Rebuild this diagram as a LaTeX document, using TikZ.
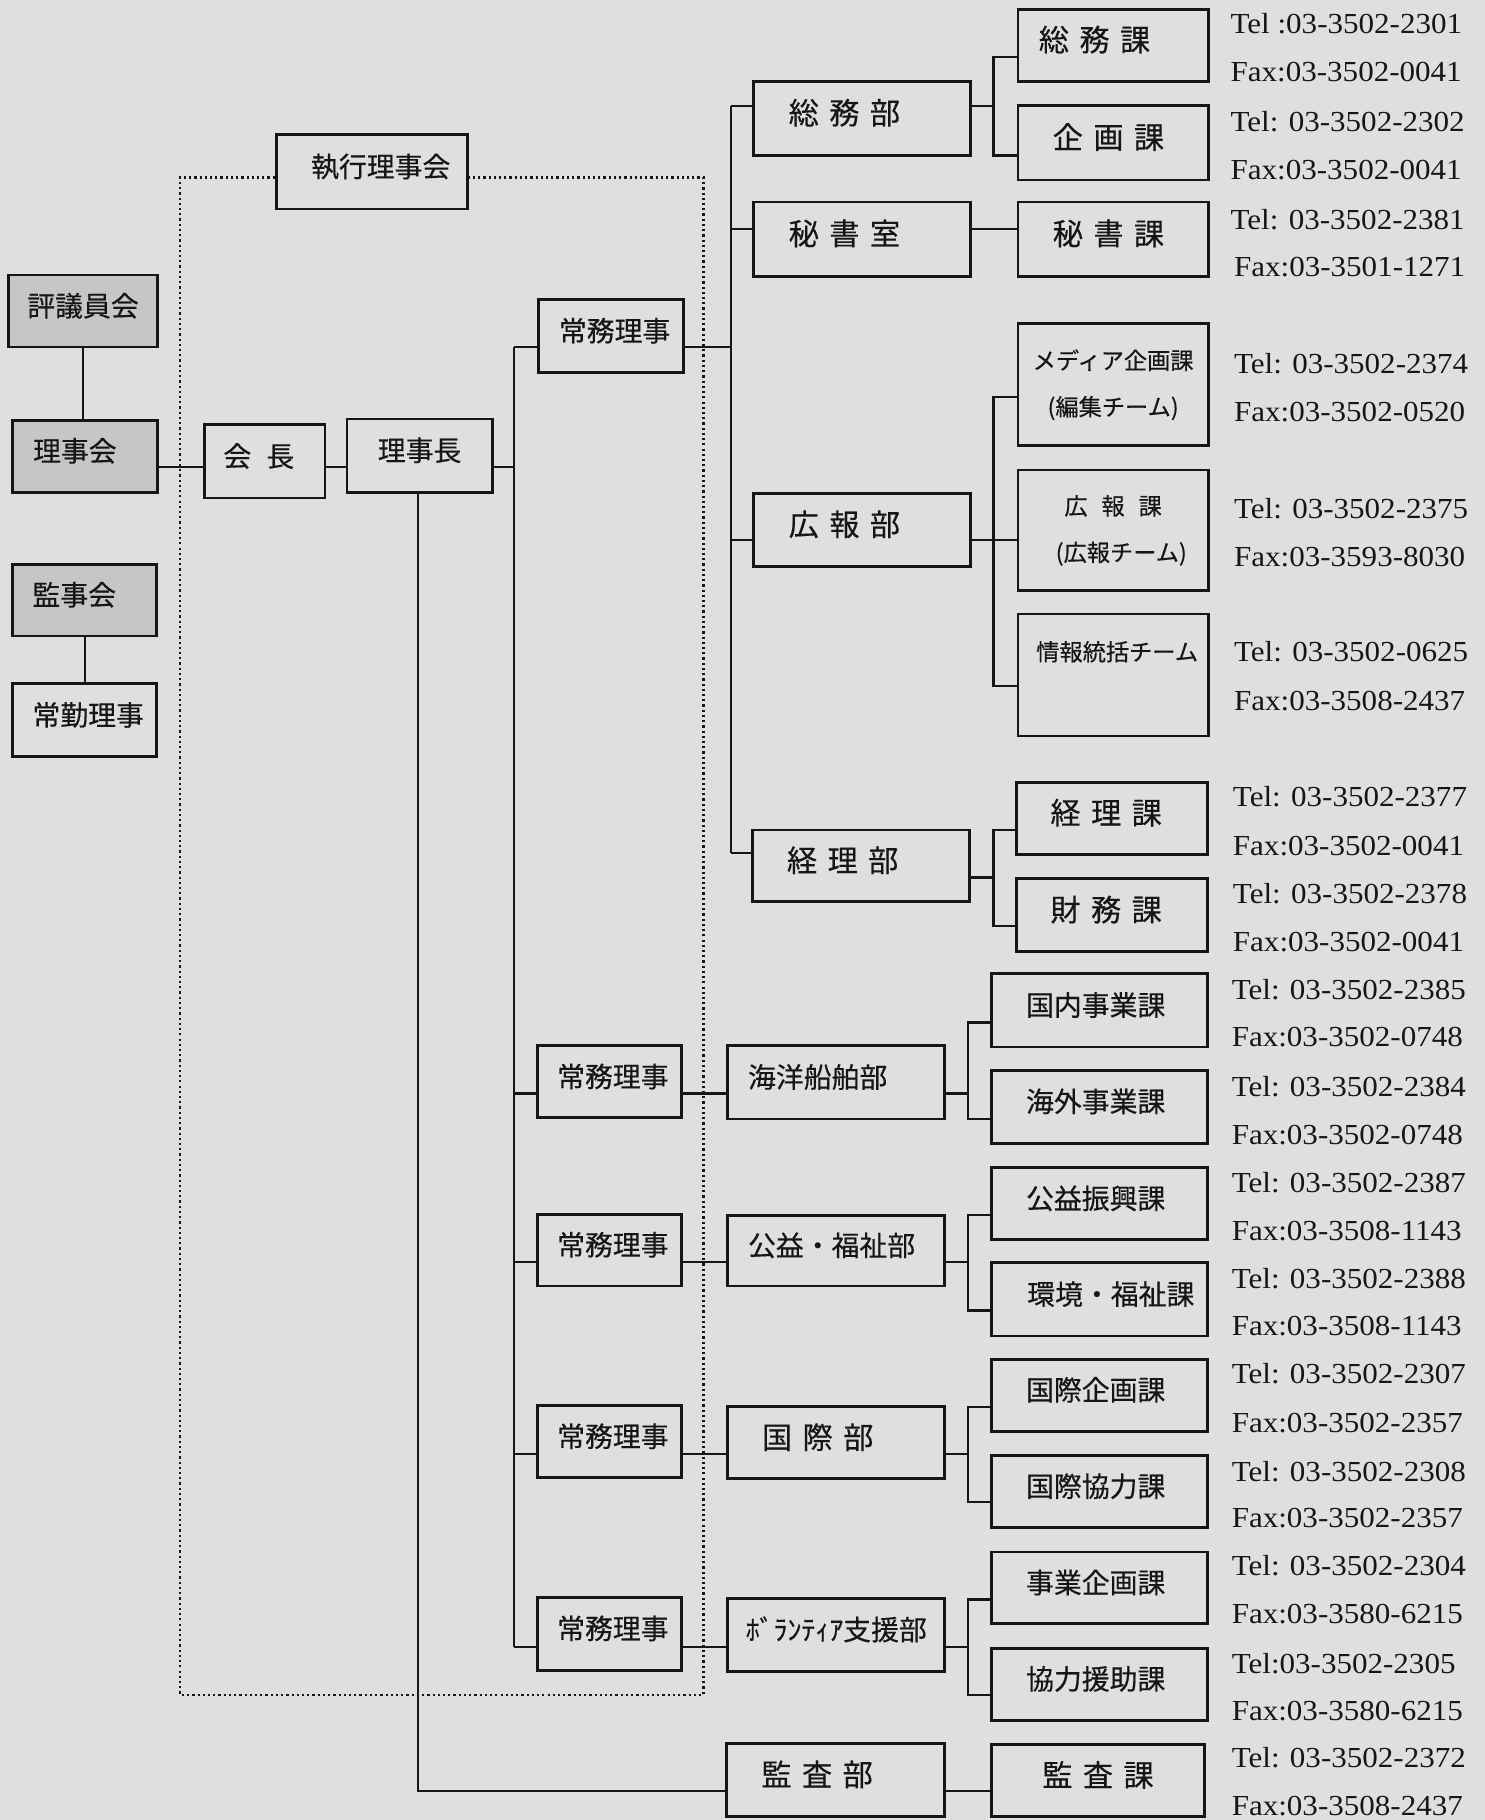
\documentclass[tikz,border=0pt]{standalone}
\usepackage{fontspec}
\setmainfont{Liberation Serif}
\newfontfamily\jp[FakeBold=0.4]{Noto Sans CJK JP}
\newfontfamily\telf[FakeStretch=1.07]{Liberation Serif}
\definecolor{bg}{RGB}{223,223,223}
\definecolor{gfill}{RGB}{198,198,198}
\definecolor{ink}{RGB}{22,22,22}
\newcommand\jsp{\hspace{9pt}}
\begin{document}
\begin{tikzpicture}[x=1pt,y=-1pt,
  bx/.style={draw=ink, line width=2.4pt, rectangle, inner sep=0pt, text=ink},
  box/.style={bx, font=\jp\fontsize{24}{28}\selectfont, text height=22pt, text depth=13pt},
  sbox/.style={bx, font=\jp\fontsize{26}{30}\selectfont, text height=23pt, text depth=13pt},
  tbox/.style={bx, font=\jp\fontsize{20}{40}\selectfont, align=center},
  gbox/.style={fill=gfill},
  conn/.style={draw=ink, line width=1.9pt},
  tel/.style={anchor=base west, inner sep=0pt, text=ink, font=\telf\fontsize{25}{30}\selectfont},
  dotline/.style={draw=ink, line width=1.9pt, dash pattern=on 1.9pt off 2.6pt}]

\fill[bg] (0,0) rectangle (1279,1568);
\useasboundingbox (0,0) rectangle (1279,1568);

% left column
\node[box, gbox, minimum width=129pt, minimum height=62pt] (hyogi) at (71.5,268) {評議員会};
\node[box, gbox, minimum width=125pt, minimum height=62pt] (rijikai) at (73.5,393) {理事会\kern18pt};
\node[box, gbox, minimum width=124pt, minimum height=62pt] (kanjikai) at (73,517) {監事会\kern18pt};
\node[box, minimum width=124pt, minimum height=63pt] (jokin) at (73,620.5) {\kern6pt常勤理事};

% executive
\node[box, minimum width=165pt, minimum height=64pt] (shikko) at (320.5,148) {\kern15pt執行理事会};
\node[box, minimum width=104pt, minimum height=63pt] (kaicho) at (228,397.5) {会\hspace{13pt}長\kern10pt};
\node[box, minimum width=125pt, minimum height=63pt] (richo) at (361.5,392.5) {理事長};
\node[box, minimum width=125pt, minimum height=63pt] (jomu1) at (526.5,289.5) {\kern6pt常務理事};
\node[box, minimum width=124pt, minimum height=62pt] (jomu2) at (525,932) {\kern6pt常務理事};
\node[box, minimum width=124pt, minimum height=62pt] (jomu3) at (525,1077) {\kern6pt常務理事};
\node[box, minimum width=124pt, minimum height=62pt] (jomu4) at (525,1242) {\kern6pt常務理事};
\node[box, minimum width=124pt, minimum height=63pt] (jomu5) at (525,1407.5) {\kern6pt常務理事};

% departments A
\node[sbox, minimum width=187pt, minimum height=64pt] (somubu) at (742.5,102) {総\jsp{}務\jsp{}部\kern30pt};
\node[sbox, minimum width=187pt, minimum height=64pt] (hishoshitsu) at (742.5,206) {秘\jsp{}書\jsp{}室\kern30pt};
\node[sbox, minimum width=187pt, minimum height=63pt] (kohobu) at (742.5,456.5) {広\jsp{}報\jsp{}部\kern30pt};
\node[sbox, minimum width=187pt, minimum height=62pt] (keiribu) at (742,746) {経\jsp{}理\jsp{}部\kern32pt};

% sections A
\node[sbox, minimum width=164pt, minimum height=62pt] (somuka) at (959,39) {総\jsp{}務\jsp{}課\kern32pt};
\node[sbox, minimum width=164pt, minimum height=64pt] (kikakuka) at (959,123) {企\jsp{}画\jsp{}課\kern8pt};
\node[sbox, minimum width=164pt, minimum height=64pt] (hishoka) at (959,206) {秘\jsp{}書\jsp{}課\kern8pt};
\node[tbox, minimum width=164pt, minimum height=105pt] (media) at (959,331.5) {メディア企画課\\(編集チーム)};
\node[tbox, minimum width=164pt, minimum height=104pt] (kohoka) at (959,457) {広\hspace{12pt}報\hspace{12pt}課\\\hspace*{14pt}(広報チーム)};
\node[tbox, minimum width=164pt, minimum height=105pt] (joho) at (959,581.5) {\hspace*{7pt}情報統括チーム\\\phantom{情}};
\node[sbox, minimum width=164pt, minimum height=62pt] (keirika) at (958,705) {経\jsp{}理\jsp{}課\kern10pt};
\node[sbox, minimum width=164pt, minimum height=63pt] (zaimuka) at (958,788.5) {財\jsp{}務\jsp{}課\kern10pt};

% departments B
\node[box, minimum width=187pt, minimum height=63pt] (kaiyo) at (720.5,932.5) {海洋船舶部\kern32pt};
\node[box, minimum width=187pt, minimum height=61pt] (koeki) at (720.5,1077.5) {公益・福祉部\kern8pt};
\node[sbox, minimum width=187pt, minimum height=62pt] (kokusai) at (720.5,1243) {国\jsp{}際\jsp{}部\kern32pt};
\node[box, minimum width=187pt, minimum height=63pt] (volunteer) at (720.5,1408.5) {ﾎﾞﾗﾝﾃｨｱ支援部};
\node[sbox, minimum width=188pt, minimum height=63pt] (kansabu) at (720,1533.5) {監\jsp{}査\jsp{}部\kern32pt};

% sections B
\node[box, minimum width=186pt, minimum height=63pt] (kokunai) at (947,870.5) {国内事業課\kern6pt};
\node[box, minimum width=186pt, minimum height=63pt] (kaigai) at (947,953.5) {海外事業課\kern6pt};
\node[box, minimum width=186pt, minimum height=62pt] (koekishinko) at (947,1037) {公益振興課\kern6pt};
\node[box, minimum width=186pt, minimum height=63pt] (kankyo) at (947,1119.5) {\kern20pt環境・福祉課};
\node[box, minimum width=186pt, minimum height=62pt] (kokusaikikaku) at (947,1202) {国際企画課\kern6pt};
\node[box, minimum width=186pt, minimum height=62pt] (kokusaikyoryoku) at (947,1285) {国際協力課\kern6pt};
\node[box, minimum width=186pt, minimum height=62pt] (jigyo) at (947,1368) {事業企画課\kern6pt};
\node[box, minimum width=186pt, minimum height=62pt] (kyoryoku) at (947,1451) {協力援助課\kern6pt};
\node[sbox, minimum width=184pt, minimum height=62pt] (kansaka) at (946,1534) {監\jsp{}査\jsp{}課};

% phone numbers
\node[tel] (t1) at (1060,29) {Tel :03-3502-2301};
\node[tel] (t2) at (1060,70) {Fax:03-3502-0041};
\node[tel] (t3) at (1060,113) {Tel: 03-3502-2302};
\node[tel] (t4) at (1060,155) {Fax:03-3502-0041};
\node[tel] (t5) at (1060,198) {Tel: 03-3502-2381};
\node[tel] (t6) at (1063,238) {Fax:03-3501-1271};
\node[tel] (t7) at (1063,322) {Tel: 03-3502-2374};
\node[tel] (t8) at (1063,363) {Fax:03-3502-0520};
\node[tel] (t9) at (1063,447) {Tel: 03-3502-2375};
\node[tel] (t10) at (1063,488) {Fax:03-3593-8030};
\node[tel] (t11) at (1063,570) {Tel: 03-3502-0625};
\node[tel] (t12) at (1063,612) {Fax:03-3508-2437};
\node[tel] (t13) at (1062,695) {Tel: 03-3502-2377};
\node[tel] (t14) at (1062,737) {Fax:03-3502-0041};
\node[tel] (t15) at (1062,778) {Tel: 03-3502-2378};
\node[tel] (t16) at (1062,820) {Fax:03-3502-0041};
\node[tel] (t17) at (1061,861) {Tel: 03-3502-2385};
\node[tel] (t18) at (1061,902) {Fax:03-3502-0748};
\node[tel] (t19) at (1061,945) {Tel: 03-3502-2384};
\node[tel] (t20) at (1061,986) {Fax:03-3502-0748};
\node[tel] (t21) at (1061,1027) {Tel: 03-3502-2387};
\node[tel] (t22) at (1061,1069) {Fax:03-3508-1143};
\node[tel] (t23) at (1061,1110) {Tel: 03-3502-2388};
\node[tel] (t24) at (1061,1151) {Fax:03-3508-1143};
\node[tel] (t25) at (1061,1192) {Tel: 03-3502-2307};
\node[tel] (t26) at (1061,1234) {Fax:03-3502-2357};
\node[tel] (t27) at (1061,1276) {Tel: 03-3502-2308};
\node[tel] (t28) at (1061,1316) {Fax:03-3502-2357};
\node[tel] (t29) at (1061,1357) {Tel: 03-3502-2304};
\node[tel] (t30) at (1061,1399) {Fax:03-3580-6215};
\node[tel] (t31) at (1061,1442) {Tel:03-3502-2305};
\node[tel] (t32) at (1061,1482) {Fax:03-3580-6215};
\node[tel] (t33) at (1061,1523) {Tel: 03-3502-2372};
\node[tel] (t34) at (1061,1564) {Fax:03-3508-2437};

% dotted frame of the executive board
\draw[dotline] (shikko.west |- 0,153) -- (155,153) -- (155,1460) -- (606,1460) -- (606,153) -- (shikko.east |- 0,153);

% helper coordinates
\coordinate (trA) at (443,0);
\coordinate (trB) at (630,0);
\coordinate (brA) at (856,0);
\coordinate (brB) at (834,0);
\coordinate (rv) at (360,0);

% connectors
\draw[conn] (hyogi.south) -- (hyogi.south |- rijikai.north);
\draw[conn] (kanjikai.south) -- (kanjikai.south |- jokin.north);
\draw[conn] (rijikai.east |- 0,402) -- (kaicho.west |- 0,402);
\draw[conn] (kaicho.east |- 0,402) -- (richo.west |- 0,402);
\draw[conn] (richo.east |- 0,402) -- (trA |- 0,402);
\draw[conn] (trA |- 0,299) -- (trA |- 0,1419);
\draw[conn] (trA |- 0,299) -- (jomu1.west |- 0,299);
\draw[conn] (trA |- 0,942) -- (jomu2.west |- 0,942);
\draw[conn] (trA |- 0,1087) -- (jomu3.west |- 0,1087);
\draw[conn] (trA |- 0,1253) -- (jomu4.west |- 0,1253);
\draw[conn] (trA |- 0,1419) -- (jomu5.west |- 0,1419);
\draw[conn] (jomu1.east |- 0,299) -- (trB |- 0,299);
\draw[conn] (jomu2.east |- 0,942) -- (kaiyo.west |- 0,942);
\draw[conn] (jomu3.east |- 0,1087) -- (koeki.west |- 0,1087);
\draw[conn] (jomu4.east |- 0,1253) -- (kokusai.west |- 0,1253);
\draw[conn] (jomu5.east |- 0,1419) -- (volunteer.west |- 0,1419);

\draw[conn] (trB |- 0,91) -- (trB |- 0,735);
\draw[conn] (trB |- 0,91) -- (somubu.west |- 0,91);
\draw[conn] (trB |- 0,197) -- (hishoshitsu.west |- 0,197);
\draw[conn] (trB |- 0,465) -- (kohobu.west |- 0,465);
\draw[conn] (trB |- 0,735) -- (keiribu.west |- 0,735);

\draw[conn] (somubu.east |- 0,91) -- (brA |- 0,91);
\draw[conn] (somuka.west |- 0,49) -| (brA |- 0,134) -- (kikakuka.west |- 0,134);
\draw[conn] (hishoshitsu.east |- 0,197) -- (hishoka.west |- 0,197);
\draw[conn] (kohobu.east |- 0,465) -- (kohoka.west |- 0,465);
\draw[conn] (media.west |- 0,342) -| (brA |- 0,591) -- (joho.west |- 0,591);
\draw[conn] (keiribu.east |- 0,756) -- (brA |- 0,756);
\draw[conn] (keirika.west |- 0,715) -| (brA |- 0,798) -- (zaimuka.west |- 0,798);

\draw[conn] (kaiyo.east |- 0,942) -- (brB |- 0,942);
\draw[conn] (kokunai.west |- 0,881) -| (brB |- 0,964) -- (kaigai.west |- 0,964);
\draw[conn] (koeki.east |- 0,1087) -- (brB |- 0,1087);
\draw[conn] (koekishinko.west |- 0,1047) -| (brB |- 0,1129) -- (kankyo.west |- 0,1129);
\draw[conn] (kokusai.east |- 0,1253) -- (brB |- 0,1253);
\draw[conn] (kokusaikikaku.west |- 0,1212) -| (brB |- 0,1294) -- (kokusaikyoryoku.west |- 0,1294);
\draw[conn] (volunteer.east |- 0,1419) -- (brB |- 0,1419);
\draw[conn] (jigyo.west |- 0,1378) -| (brB |- 0,1460) -- (kyoryoku.west |- 0,1460);

\draw[conn] (rv |- richo.south) |- (kansabu.west |- 0,1543);
\draw[conn] (kansabu.east |- 0,1543) -- (kansaka.west |- 0,1543);
\end{tikzpicture}
\end{document}
